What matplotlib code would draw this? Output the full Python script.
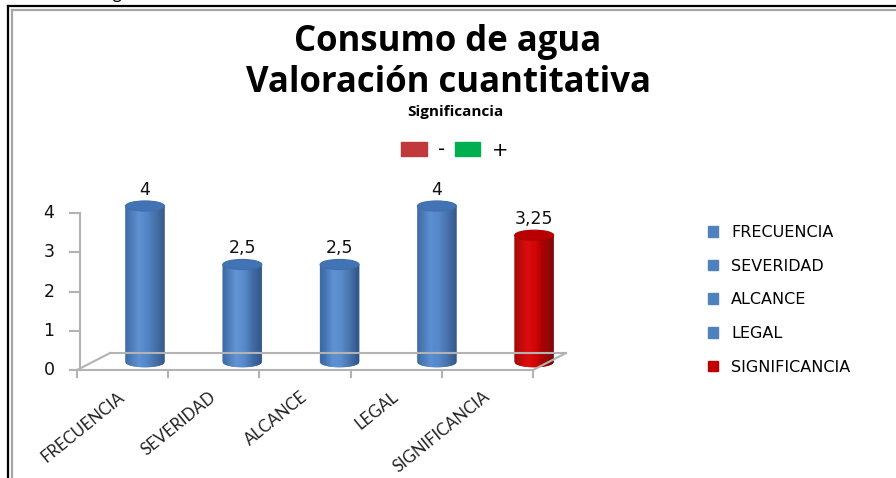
import numpy as np
import matplotlib.pyplot as plt
from matplotlib.patches import Polygon, Ellipse, Patch
from matplotlib.lines import Line2D
from matplotlib.colors import LinearSegmentedColormap

categories = ["FRECUENCIA", "SEVERIDAD", "ALCANCE", "LEGAL", "SIGNIFICANCIA"]
values = [4, 2.5, 2.5, 4, 3.25]
value_labels = ["4", "2,5", "2,5", "4", "3,25"]
y_ticks = [0, 1, 2, 3, 4]
sign_labels = ["-", "+"]
sign_colors = ["#c0393b", "#00b050"]

blue_cm = LinearSegmentedColormap.from_list(
    "b", [(0, "#36639f"), (0.35, "#5b8fd2"), (0.55, "#5287c9"), (1, "#2c5286")])
red_cm = LinearSegmentedColormap.from_list(
    "r", [(0, "#a00000"), (0.35, "#dd0000"), (0.55, "#cc0000"), (1, "#780000")])
bar_maps = [blue_cm, blue_cm, blue_cm, blue_cm, red_cm]
cap_colors = ["#4273b5", "#4273b5", "#4273b5", "#4273b5", "#b80000"]
legend_colors = ["#4f81bd", "#4f81bd", "#4f81bd", "#4f81bd", "#c00000"]

W, H = 896, 478
fig = plt.figure(figsize=(W / 100, H / 100), dpi=100)
ax = fig.add_axes([0, 0, 1, 1])
ax.axis("off")

# one category = 97.3 px, one unit = 39 px, first bar at x=145, base at y=362
ax.set_xlim(-145 / 97.3, (W - 145) / 97.3)
ax.set_ylim(-(H - 362) / 39.0, 362 / 39.0)

# floor (3D look)
floor_c = "#b3b3b3"
fy = -0.205          # front edge of the floor
fx0, fstep = -0.699, 0.9373
bdx, bdy = 0.34, 0.435
fx1 = fx0 + fstep * len(categories)
ax.plot([fx0, fx1], [fy, fy], color=floor_c, lw=1.5)
ax.plot([fx0 + bdx, fx1 + bdx], [fy + bdy, fy + bdy], color=floor_c, lw=1.5)
ax.plot([fx0, fx0 + bdx], [fy, fy + bdy], color=floor_c, lw=1.5)
ax.plot([fx1, fx1 + bdx], [fy, fy + bdy], color=floor_c, lw=1.5)
for k in range(len(categories) + 1):
    xk = fx0 + fstep * k
    ax.plot([xk, xk], [fy, fy - 0.18], color=floor_c, lw=1.5)

# value axis
yax = fx0 + 0.03
ty = [fy + 1.006 * t for t in y_ticks]
ax.plot([yax, yax], [fy, ty[-1]], color=floor_c, lw=1.5)
for t, yy in zip(y_ticks, ty):
    ax.plot([yax - 0.1, yax], [yy, yy], color=floor_c, lw=1.5)
    ax.text(-0.987, yy, str(t), ha="center", va="center", fontsize=12.5,
            color="#111111", family="DejaVu Sans")

# category labels
for k, name in enumerate(categories):
    ax.text(fx0 + fstep * (k + 0.5), -0.84, name, ha="right", va="center",
            rotation=39, rotation_mode="anchor", fontsize=12,
            family="Lato", color="#222222")

# cylinders
half_w, ell_h = 0.2, 0.13
n = 40
tt = np.linspace(-1, 1, n + 1)
for i, (v, cm, capc) in enumerate(zip(values, bar_maps, cap_colors)):
    for a, b in zip(tt[:-1], tt[1:]):
        col = cm((a + b) / 4 + 0.5)
        xa, xb = i + half_w * a, i + half_w * b
        ya = -ell_h * np.sqrt(max(0, 1 - a * a))
        yb = -ell_h * np.sqrt(max(0, 1 - b * b))
        ax.add_patch(Polygon([(xa, ya), (xb, yb), (xb, v), (xa, v)],
                             closed=True, facecolor=col, edgecolor=col, lw=0.4))
    ax.add_patch(Ellipse((i, v), 2 * half_w, 2 * ell_h, facecolor=capc,
                         edgecolor=cm(0.1), lw=0.8))
    ax.text(i, v + 0.42, value_labels[i], ha="center", va="center",
            fontsize=12.5, color="#111111", family="DejaVu Sans")

# titles
fig.text(0.5, 1 - 42 / H, "Consumo de agua", ha="center", va="center",
         fontsize=25, fontweight="bold", family="Open Sans")
fig.text(0.5, 1 - 83 / H, "Valoración cuantitativa", ha="center", va="center",
         fontsize=25, fontweight="bold", family="Open Sans")
fig.text(455 / W, 1 - 112 / H, "Significancia", ha="center", va="center",
         fontsize=11, fontweight="bold", family="Open Sans")
fig.text(0.0, 1 + 1 / H, "Consumo de agua", ha="left", va="baseline",
         fontsize=13, family="Lato")

# small sign legend
sign_leg = ax.legend([Patch(color=c) for c in sign_colors], sign_labels,
                     ncol=2, loc="center", bbox_to_anchor=(455 / W, 1 - 150 / H),
                     bbox_transform=fig.transFigure, frameon=False,
                     prop={"family": "DejaVu Sans", "size": 14},
                     handlelength=1.3, handleheight=0.75, handletextpad=0.6,
                     columnspacing=0.5, borderpad=0)
ax.add_artist(sign_leg)

# category legend
ax.legend([Patch(color=c) for c in legend_colors], categories,
          loc="upper left", bbox_to_anchor=(700 / W, 1 - 217 / H),
          bbox_transform=fig.transFigure, frameon=False,
          prop={"family": "DejaVu Sans", "size": 11.5},
          handlelength=0.65, handleheight=0.65, handletextpad=0.8,
          labelspacing=1.17, borderpad=0)

# frame lines of the original picture
fig.add_artist(Line2D([8 / W, 8 / W], [0, 1 - 6 / H], color="black", lw=1.6,
                      transform=fig.transFigure))
fig.add_artist(Line2D([8 / W, 1], [1 - 6 / H, 1 - 6 / H], color="black", lw=1.6,
                      transform=fig.transFigure))
fig.add_artist(Line2D([12 / W, 12 / W], [0, 1 - 9.5 / H], color="#a6a6a6", lw=1.6,
                      transform=fig.transFigure))
fig.add_artist(Line2D([12 / W, 1], [1 - 9.5 / H, 1 - 9.5 / H], color="#a6a6a6",
                      lw=1.6, transform=fig.transFigure))

fig.savefig("out.png", dpi=100)
